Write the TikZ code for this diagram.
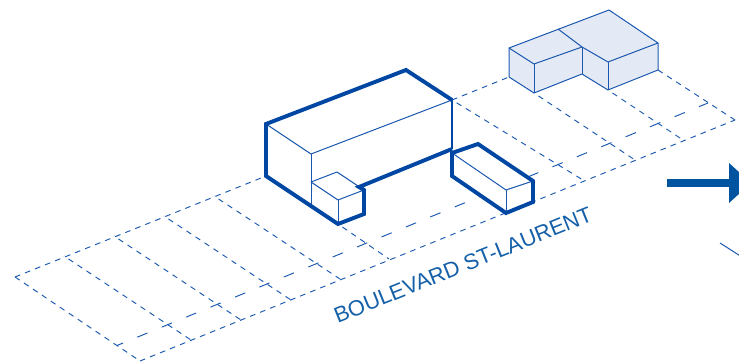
\documentclass[tikz,border=0pt]{standalone}
\usepackage{fontspec}
\setmainfont{Liberation Sans}
\definecolor{thick}{HTML}{0047A3}
\definecolor{thin}{HTML}{1A58B0}
\definecolor{pale}{HTML}{E4EAF5}
\definecolor{arrowc}{HTML}{00539F}
\definecolor{labelc}{HTML}{1560A8}
\tikzset{
  roadline/.style={draw=thin,line width=0.95pt,dash pattern=on 5.6pt off 5.2pt},
  crossline/.style={roadline,dash phase=5.4pt},
  centreline/.style={draw=thin,line width=0.95pt,dash pattern=on 11pt off 15.4pt,dash phase=4.5pt},
  heavy/.style={draw=thick,line width=3.9pt,line join=miter},
  fine/.style={draw=thin,line width=1pt,line join=round},
  mass/.style={fill=pale,draw=thin,line width=1pt,line join=round}
}
\begin{document}
\begin{tikzpicture}[x=1pt,y=-1pt]
\useasboundingbox (0,0) rectangle (739,363);
\clip (0,0) rectangle (739,363);
% road
\coordinate (rl) at (15,277);
\coordinate (rb) at (140,361);
\coordinate (rr) at (735,120);
\coordinate (rt) at (658,70);
\coordinate (ml) at (266,176);
\coordinate (mr) at (452,100);
\coordinate (bl) at (509,77);
\coordinate (bi) at (534,93);
\coordinate (be) at (608,90);
\draw[roadline] (rl) -- (ml);
\draw[roadline] (mr) -- (bl);
\draw[roadline] (rl) -- (rb);
\draw[roadline] (rb) -- (rr);
\draw[roadline] (rt) -- (rr);
\coordinate (a1) at (64,256); \coordinate (a2) at (191,340);
\coordinate (b1) at (114,236); \coordinate (b2) at (241,320);
\coordinate (c1) at (164,216); \coordinate (c2) at (291,300);
\coordinate (d1) at (214,196); \coordinate (d2) at (340,279);
\coordinate (e1) at (338,224); \coordinate (e2) at (389,259);
\coordinate (f2) at (583,180);
\coordinate (g2) at (635,160);
\coordinate (h2) at (683,140);
\draw[crossline] (a1) -- (a2);
\draw[crossline] (b1) -- (b2);
\draw[crossline] (c1) -- (c2);
\draw[crossline] (d1) -- (d2);
\draw[crossline] (e1) -- (e2);
\draw[crossline] (mr) -- (f2);
\draw[crossline] (bi) -- (g2);
\draw[crossline] (be) -- (h2);
\coordinate (cl1) at (117,345.5);
\coordinate (cl2) at (708,103);
\draw[centreline] (cl1) -- (cl2);
% main building
\coordinate (m1) at (266,124);
\coordinate (m2) at (406,70);
\coordinate (m3) at (452,100);
\coordinate (m4) at (452,149);
\coordinate (m5) at (359,187);
\coordinate (m6) at (364,190);
\coordinate (m7) at (364,214);
\coordinate (m8) at (338,224);
\coordinate (m9) at (266,176);
\coordinate (m10) at (311,154);
\coordinate (m11) at (311,204);
\coordinate (s1) at (311,182);
\coordinate (s2) at (337,172);
\coordinate (s3) at (338,200);
\fill[white] (m1)--(m2)--(m3)--(m4)--(m5)--(m6)--(m7)--(m8)--(m9)--cycle;
\draw[fine] (m1) -- (m10) -- (m3);
\draw[fine] (m10) -- (m11);
\draw[fine] (s1) -- (s2) -- (m6) -- (s3) -- cycle;
\draw[fine] (s3) -- (m8);
\draw[heavy] (m3) -- (m2) -- (m1) -- (m9) -- (m8) -- (m7) -- (m6) -- (m5) -- (m4);
\draw[draw=thick,line width=2.8pt] (m3) -- (m4);
% small front building
\coordinate (p1) at (452,153);
\coordinate (p2) at (478,144);
\coordinate (p3) at (533,181);
\coordinate (p4) at (533,202);
\coordinate (p5) at (506,213);
\coordinate (p6) at (452,176);
\coordinate (p7) at (506,190);
\fill[white] (p1)--(p2)--(p3)--(p4)--(p5)--(p6)--cycle;
\draw[fine] (p1) -- (p7) -- (p3);
\draw[fine] (p7) -- (p5);
\draw[heavy] (p1) -- (p2) -- (p3) -- (p4) -- (p5) -- (p6) -- cycle;
% far building
\coordinate (A) at (509,48);
\coordinate (B) at (558,29);
\coordinate (C) at (609,10);
\coordinate (D) at (658,43);
\coordinate (F) at (608,62);
\coordinate (G) at (582,47);
\coordinate (H) at (534,64);
\coordinate (K) at (582,74);
\draw[mass] (A) -- (C) -- (D) -- (rt) -- (be) -- (K) -- (bi) -- (bl) -- cycle;
\draw[fine] (A) -- (H) -- (G);
\draw[fine] (H) -- (bi);
\draw[fine] (B) -- (G) -- (F) -- (D);
\draw[fine] (F) -- (be);
\draw[fine] (G) -- (K);
% arrow
\coordinate (ar1) at (667,183);
\coordinate (ar2) at (730,183);
\draw[draw=arrowc,line width=8pt] (ar1) -- (ar2);
\fill[arrowc] (729,163) -- (751,183) -- (729,203) -- cycle;
% clipped line at right edge
\coordinate (t1) at (720,243);
\coordinate (t2) at (745,259);
\draw[fine] (t1) -- (t2);
% label
\node[rotate=22,text=labelc,font=\fontsize{21.9}{26}\selectfont,inner sep=0pt] (lab) at (463,265) {BOULEVARD ST-LAURENT};
\end{tikzpicture}
\end{document}
